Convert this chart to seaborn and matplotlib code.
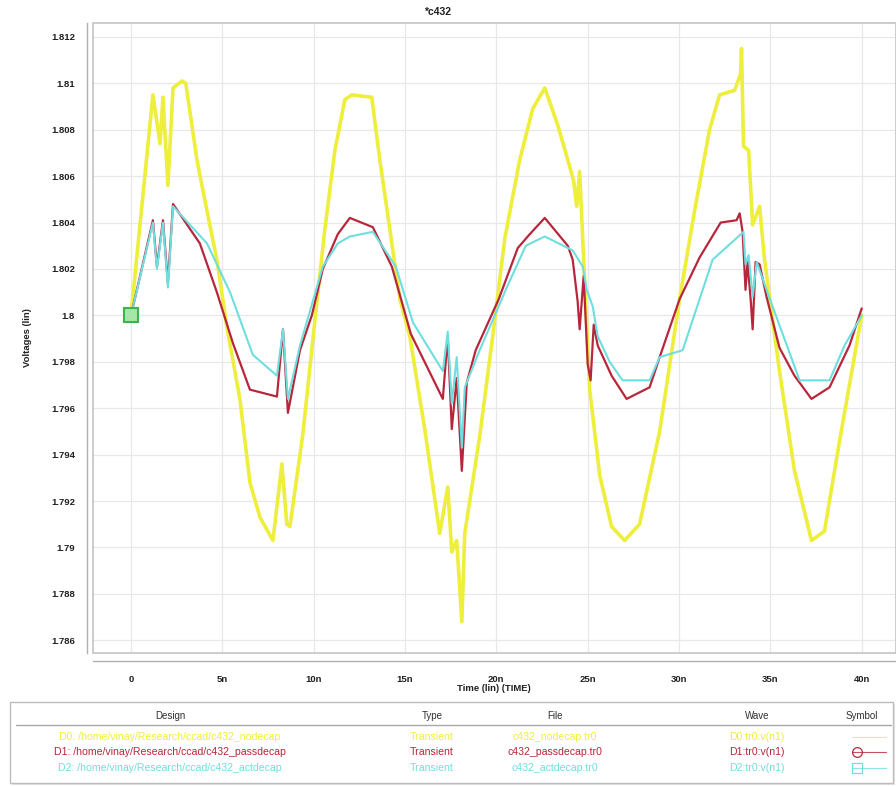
import matplotlib
matplotlib.use("Agg")
import matplotlib.pyplot as plt
from matplotlib.patches import Rectangle
from matplotlib.lines import Line2D
from matplotlib.ticker import MultipleLocator, FixedLocator
import seaborn as sns
import pandas as pd

# ---------------- data (time in ns, voltage in V) ----------------
t_d0 = [0.0, 1.20, 1.59, 1.75, 2.02, 2.30, 2.79, 3.00, 3.61, 4.16, 4.70, 5.25, 5.96, 6.51,
        7.06, 7.77, 8.26, 8.53, 8.70, 9.41, 10.07, 10.61, 11.16, 11.71, 12.09, 13.18, 13.62,
        14.17, 14.72, 15.26, 16.08, 16.90, 17.34, 17.56, 17.83, 18.11, 18.27, 19.09, 19.80,
        20.46, 21.28, 21.99, 22.65, 23.36, 23.91, 24.23, 24.40, 24.56, 24.78, 25.11, 25.66,
        26.31, 27.02, 27.84, 28.94, 30.03, 30.85, 31.67, 32.22, 33.04, 33.37, 33.42, 33.53,
        33.81, 34.03, 34.41, 34.68, 35.50, 36.32, 37.25, 37.96, 38.79, 40.0]
v_d0 = [1.8000, 1.8095, 1.8074, 1.8094, 1.8056, 1.8098, 1.8101, 1.8100, 1.8067, 1.8045,
        1.8024, 1.7995, 1.7964, 1.7928, 1.7913, 1.7903, 1.7936, 1.7910, 1.7909, 1.7949,
        1.7998, 1.8037, 1.8071, 1.8093, 1.8095, 1.8094, 1.8067, 1.8037, 1.8007, 1.7991,
        1.7951, 1.7906, 1.7926, 1.7898, 1.7903, 1.7868, 1.7906, 1.7948, 1.7991, 1.8033,
        1.8067, 1.8089, 1.8098, 1.8082, 1.8067, 1.8058, 1.8047, 1.8062, 1.8024, 1.7968,
        1.7931, 1.7909, 1.7903, 1.7910, 1.7950, 1.8007, 1.8045, 1.8080, 1.8095, 1.8097,
        1.8104, 1.8115, 1.8073, 1.8071, 1.8039, 1.8047, 1.8024, 1.7976, 1.7933, 1.7903,
        1.7907, 1.7946, 1.8000]

t_d1 = [0.0, 1.20, 1.42, 1.75, 2.02, 2.30, 3.77, 4.70, 5.58, 6.51, 7.99, 8.32, 8.59, 9.25,
        9.90, 10.50, 11.32, 11.98, 13.24, 14.28, 15.32, 17.07, 17.34, 17.56, 17.83, 18.11,
        18.38, 18.87, 20.13, 21.17, 21.83, 22.65, 23.91, 24.18, 24.45, 24.56, 24.78, 25.00,
        25.16, 25.33, 25.55, 26.31, 27.13, 28.39, 28.94, 30.03, 31.13, 32.28, 33.15, 33.32,
        33.48, 33.64, 33.75, 33.92, 34.03, 34.19, 34.41, 34.79, 35.50, 36.32, 37.25, 38.24,
        39.33, 40.0]
v_d1 = [1.8000, 1.8041, 1.8021, 1.8041, 1.8014, 1.8048, 1.8031, 1.8010, 1.7988, 1.7968,
        1.7965, 1.7994, 1.7958, 1.7985, 1.8000, 1.8020, 1.8035, 1.8042, 1.8038, 1.8021,
        1.7992, 1.7964, 1.7991, 1.7951, 1.7973, 1.7933, 1.7971, 1.7985, 1.8007, 1.8029,
        1.8035, 1.8042, 1.8030, 1.8024, 1.8006, 1.7994, 1.8017, 1.7979, 1.7972, 1.7996,
        1.7987, 1.7974, 1.7964, 1.7969, 1.7982, 1.8007, 1.8025, 1.8040, 1.8041, 1.8044,
        1.8036, 1.8011, 1.8023, 1.8007, 1.7994, 1.8023, 1.8022, 1.8008, 1.7986, 1.7974,
        1.7964, 1.7969, 1.7987, 1.8003]

t_d2 = [0.0, 1.20, 1.42, 1.75, 2.02, 2.30, 4.16, 5.42, 6.67, 7.99, 8.32, 8.59, 9.25, 10.50,
        11.32, 11.98, 13.24, 14.50, 15.43, 17.07, 17.34, 17.56, 17.83, 18.11, 18.27, 19.09,
        20.57, 21.61, 22.65, 24.18, 24.73, 24.95, 25.27, 25.55, 26.20, 26.91, 28.39, 28.94,
        30.20, 31.84, 33.53, 33.64, 33.81, 34.03, 34.25, 34.79, 36.60, 38.24, 39.06, 40.0]
v_d2 = [1.8000, 1.8040, 1.8020, 1.8040, 1.8012, 1.8047, 1.8031, 1.8010, 1.7983, 1.7974,
        1.7994, 1.7964, 1.7987, 1.8021, 1.8031, 1.8034, 1.8036, 1.8021, 1.7997, 1.7976,
        1.7993, 1.7962, 1.7982, 1.7943, 1.7969, 1.7985, 1.8012, 1.8030, 1.8034, 1.8028,
        1.8021, 1.8011, 1.8004, 1.7991, 1.7980, 1.7972, 1.7972, 1.7982, 1.7985, 1.8024,
        1.8036, 1.8022, 1.8026, 1.8008, 1.8023, 1.8011, 1.7972, 1.7972, 1.7987, 1.8000]

x_ticks = [0, 5, 10, 15, 20, 25, 30, 35, 40]
x_tick_labels = ["0", "5n", "10n", "15n", "20n", "25n", "30n", "35n", "40n"]
y_ticks = [1.786, 1.788, 1.79, 1.792, 1.794, 1.796, 1.798, 1.8, 1.802, 1.804,
           1.806, 1.808, 1.81, 1.812]
y_tick_labels = ["1.786", "1.788", "1.79", "1.792", "1.794", "1.796", "1.798", "1.8",
                 "1.802", "1.804", "1.806", "1.808", "1.81", "1.812"]

designs = ["D0: /home/vinay/Research/ccad/c432_nodecap",
           "D1: /home/vinay/Research/ccad/c432_passdecap",
           "D2: /home/vinay/Research/ccad/c432_actdecap"]
types = ["Transient", "Transient", "Transient"]
files = ["c432_nodecap.tr0", "c432_passdecap.tr0", "c432_actdecap.tr0"]
waves = ["D0:tr0:v(n1)", "D1:tr0:v(n1)", "D2:tr0:v(n1)"]
colors = ["#eeee3c", "#b8263c", "#6fdede"]
markers = [None, "o", "s"]

# ---------------- figure ----------------
sns.set_theme(style="white")
plt.rcParams["font.family"] = ["Liberation Sans", "DejaVu Sans"]

W, H = 896, 786
fig = plt.figure(figsize=(W / 100, H / 100), dpi=100)
fig.patch.set_facecolor("white")

L, T, R, B = 93, 23, 895.5, 653
ax = fig.add_axes([L / W, 1 - B / H, (R - L) / W, (B - T) / H])

series = [(t_d0, v_d0), (t_d1, v_d1), (t_d2, v_d2)]
lws = [2.6, 1.6, 1.5]
for i, (tt, vv) in enumerate(series):
    df = pd.DataFrame({"t": tt, "v": vv})
    sns.lineplot(data=df, x="t", y="v", ax=ax, color=colors[i], lw=lws[i],
                 sort=False, estimator=None, zorder=3 + i)

# start symbol (square of D2)
ax.plot([t_d2[0]], [v_d2[0]], marker="s", ms=10, mfc="#a6e6a6", mec="#3cb44b",
        mew=1.5, zorder=8, ls="none")

ax.set_xlim(-2.08, 41.85)
ax.set_ylim(1.78545, 1.8126)

ax.xaxis.set_major_locator(FixedLocator(x_ticks))
ax.set_xticklabels(x_tick_labels)
ax.xaxis.set_minor_locator(MultipleLocator(1.25))
ax.yaxis.set_major_locator(FixedLocator(y_ticks))
ax.set_yticklabels(y_tick_labels)
ax.yaxis.set_minor_locator(MultipleLocator(0.0005))

ax.grid(True, which="major", color="#e8e8ec", lw=0.9, zorder=0)
ax.set_axisbelow(True)

for s in ["top", "right"]:
    ax.spines[s].set_visible(False)
ax.spines["left"].set_position(("outward", 4))
ax.spines["bottom"].set_position(("outward", 6))
ax.spines["left"].set_color("#b0b0b0")
ax.spines["bottom"].set_color("#b0b0b0")
ax.spines["left"].set_linewidth(1.0)
ax.spines["bottom"].set_linewidth(1.0)
ax.add_patch(Rectangle((0, 0), 1, 1, transform=ax.transAxes, fill=False,
                       ec="#c4c4c4", lw=1.2, clip_on=False, zorder=10))

ax.tick_params(axis="both", which="major", length=4, width=0.8, color="#909090",
               labelsize=6.8, labelcolor="#202020", direction="out")
ax.tick_params(axis="both", which="minor", length=2, width=0.6, color="#a0a0a0",
               direction="out")
ax.tick_params(axis="y", pad=5)
ax.tick_params(axis="x", pad=6)
for lab in ax.get_xticklabels() + ax.get_yticklabels():
    lab.set_fontweight("bold")

ax.set_xlabel("Time (lin) (TIME)", fontsize=6.8, fontweight="bold", color="#202020",
              labelpad=0)
ax.set_ylabel("")
fig.text(27 / W, 1 - 338 / H, "Voltages (lin)", rotation=90, fontsize=6.8,
         fontweight="bold", color="#202020", ha="center", va="center")
fig.text(438 / W, 1 - 12 / H, "*c432", fontsize=7.5, fontweight="bold",
         color="#202020", ha="center", va="center")

# ---------------- legend table ----------------
lx0, lx1, ly0, ly1 = 10, 893, 702, 783
fig.patches.append(Rectangle((lx0 / W + 0.002, 1 - (ly1 + 2) / H), (lx1 - lx0) / W,
                             (ly1 - ly0) / H, transform=fig.transFigure,
                             fc="#e4e4e4", ec="none", zorder=0))
fig.patches.append(Rectangle((lx0 / W, 1 - ly1 / H), (lx1 - lx0) / W, (ly1 - ly0) / H,
                             transform=fig.transFigure, fc="white", ec="#bdbdbd",
                             lw=1.0, zorder=1))
fig.add_artist(Line2D([(lx0 + 6) / W, (lx1 - 2) / W], [1 - 725 / H, 1 - 725 / H],
                      transform=fig.transFigure, color="#a8a8a8", lw=1.0))

col_x = [170, 432, 555, 757, 862]
headers = ["Design", "Type", "File", "Wave", "Symbol"]
for cx, h in zip(col_x, headers):
    fig.text(cx / W, 1 - 716 / H, h, fontsize=7, color="#303030",
             ha="center", va="center")

row_y = [737, 752, 768]
for i in range(3):
    yy = 1 - row_y[i] / H
    for cx, txt in zip(col_x[:4], [designs[i], types[i], files[i], waves[i]]):
        fig.text(cx / W, yy, txt, fontsize=7.6, color=colors[i], ha="center",
                 va="center")
    fig.add_artist(Line2D([852 / W, 886 / W], [yy, yy], transform=fig.transFigure,
                          color=colors[i], lw=0.8, alpha=0.8))
    if markers[i] is not None:
        fig.add_artist(Line2D([857 / W], [yy], transform=fig.transFigure,
                              marker=markers[i], ms=7, mfc="none", mec=colors[i],
                              mew=0.9, ls="none"))

fig.savefig("out.png", dpi=100, facecolor="white")
